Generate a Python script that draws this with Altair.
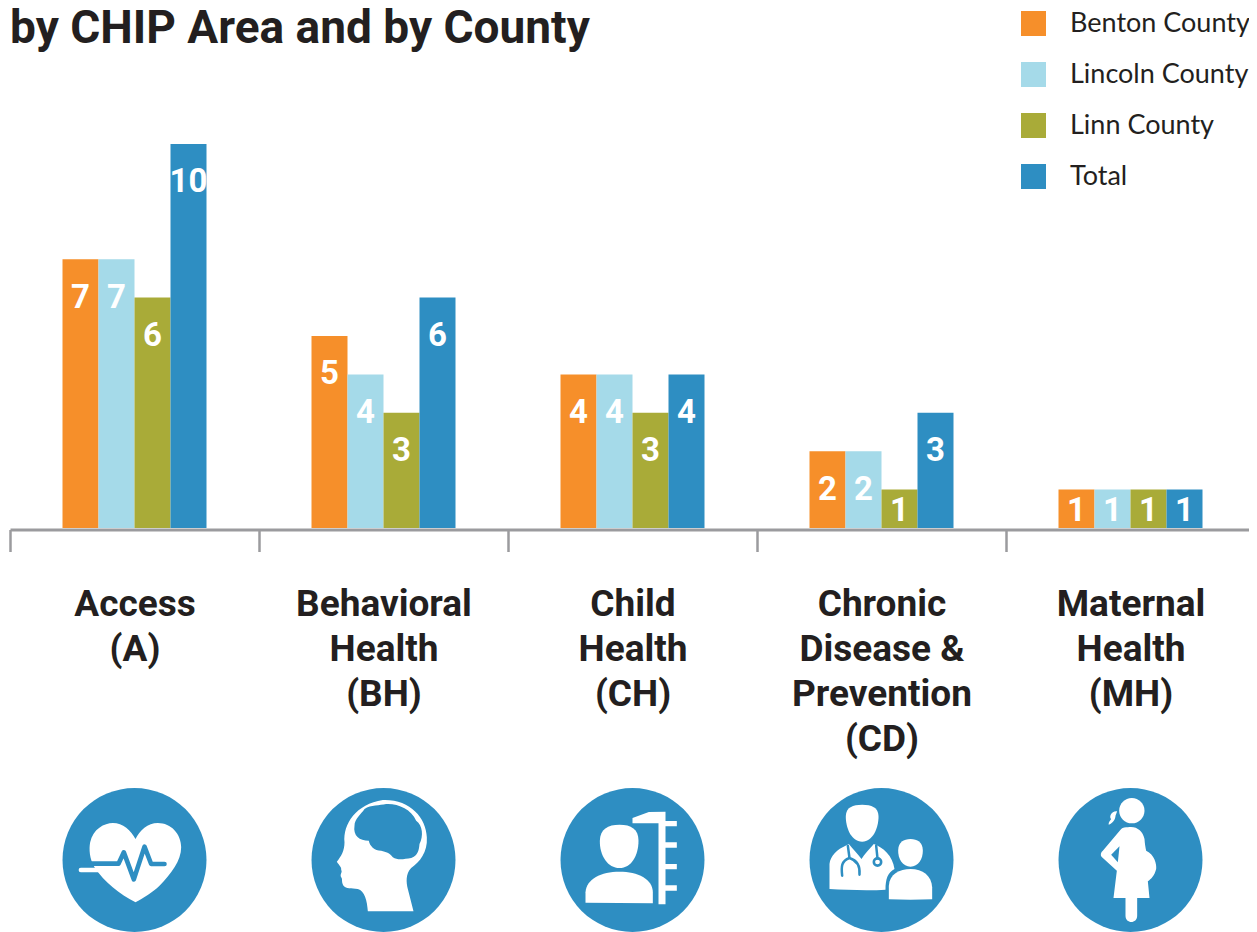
import re
import altair as alt
import pandas as pd

title_text = "by CHIP Area and by County"
categories = ["Access|(A)", "Behavioral|Health|(BH)", "Child|Health|(CH)",
              "Chronic|Disease &|Prevention|(CD)", "Maternal|Health|(MH)"]
series = ["Benton County", "Lincoln County", "Linn County", "Total"]
benton = [7, 5, 4, 2, 1]
lincoln = [7, 4, 4, 2, 1]
linn = [6, 3, 3, 1, 1]
total = [10, 6, 4, 3, 1]
colors = ["#F68F2A", "#A5DAE9", "#A9AB38", "#2E8EC2"]
INK = "#231F20"
AXIS = "#9B9B9E"
BOLD = "Roboto"
LIGHT = "Lato"

rows = []
for s, vals in zip(series, [benton, lincoln, linn, total]):
    for c, v in zip(categories, vals):
        rows.append({"cat": c, "series": s, "value": v})
df = pd.DataFrame(rows)


def glyph(path, cx, cy):
    return re.sub(r"(-?[\d.]+),(-?[\d.]+)",
                  lambda m: f"{float(m[1]) - cx:.1f},{float(m[2]) - cy:.1f}", path)


def ring(x, y, r):
    k = r * 0.55
    return (f"M{x-r},{y} C{x-r},{y-k} {x-k},{y-r} {x},{y-r} C{x+k},{y-r} {x+r},{y-k} {x+r},{y} "
            f"C{x+r},{y+k} {x+k},{y+r} {x},{y+r} C{x-k},{y+r} {x-r},{y+k} {x-r},{y} Z")


W, B, N = "white", "#2E8EC2", "transparent"
icons = [
    # heart
    (0, 285, 238, W, N, 0, "M288,365 C240,340 195,305 165,260 C150,235 148,205 152,185 C160,145 195,127 220,127 C250,127 275,150 288,175 C300,150 325,127 355,127 C395,127 425,160 425,200 C425,240 395,280 360,315 C340,335 310,352 288,365 Z"),
    (0, 285, 238, N, B, 4.6, "M140,249 L237,249 L253,215 L283,296 L315,198 L335,250 L375,250"),
    (0, 285, 238, N, W, 4.4, "M124,268 L185,268"),
    # head
    (1, 1032, 238, W, N, 0, "M1122,392 L985,392 C983,360 975,330 955,325 C935,322 920,325 912,315 C905,305 910,295 905,290 C900,280 910,275 905,268 C907,260 900,255 892,243 C905,228 915,210 915,185 C910,130 950,70 1030,58 C1110,55 1160,110 1162,170 C1165,215 1140,245 1115,262 C1098,280 1100,305 1105,325 Z"),
    (1, 1032, 238, B, N, 0, "M945,135 C945,115 965,100 975,85 C995,72 1020,75 1040,70 C1075,68 1115,85 1130,120 C1150,135 1152,165 1140,190 C1138,210 1135,225 1115,232 C1095,235 1075,240 1060,230 C1050,215 1040,215 1025,210 C1005,210 990,195 988,180 C960,180 940,165 945,135 Z"),
    # child and ruler
    (2, 279, 238, W, N, 0, "M240,262 C205,262 180,225 181,180 C182,145 205,132 240,132 C275,132 297,145 297,180 C297,225 275,262 240,262 Z"),
    (2, 279, 238, W, N, 0, "M138,366 L138,335 C140,295 185,273 240,273 C295,273 340,295 340,335 L340,368 Z"),
    (2, 279, 238, W, N, 0, "M279,112 L328,94 L378,93 L378,121 L412,121 L412,137 L378,137 L378,185 L412,185 L412,201 L378,201 L378,250 L412,250 L412,266 L378,266 L378,314 L412,314 L412,330 L378,330 L378,371 L357,371 L357,128 L279,128 Z"),
    # doctor and patient
    (3, 1026, 238, W, N, 0, "M968,183 C935,183 918,140 919,105 C920,80 940,72 968,72 C996,72 1016,80 1017,105 C1018,140 1000,183 968,183 Z"),
    (3, 1026, 238, W, N, 0, "M918,195 L928,190 C940,205 955,220 966,235 C975,220 990,205 1003,190 C1030,200 1060,225 1065,265 C1045,275 1038,295 1038,327 C990,330 920,328 870,325 L870,250 C872,225 895,205 918,195 Z"),
    (3, 1026, 238, N, B, 2.5, "M925,195 L930,232 C905,240 905,260 908,285 M930,232 C955,240 962,260 960,282 M1010,195 L1014,233"),
    (3, 1026, 238, N, B, 2.6, ring(1014, 244, 11)),
    (3, 1026, 238, W, N, 0, "M1113,258 C1090,258 1075,235 1076,208 C1077,185 1092,175 1113,175 C1134,175 1149,185 1150,208 C1151,235 1136,258 1113,258 Z"),
    (3, 1026, 238, W, N, 0, "M1048,356 L1048,315 C1050,280 1080,265 1113,265 C1150,265 1176,285 1178,320 L1178,356 C1135,358 1090,358 1048,356 Z"),
    # expectant mother
    (4, 273, 238, W, N, 0, ring(277, 90, 38)),
    (4, 273, 238, W, N, 0, "M233,92 C215,90 208,110 215,115 C207,125 207,130 208,132 C225,125 228,110 228,105 Z"),
    (4, 273, 238, W, N, 0, "M265,140 C290,135 310,150 315,175 C316,190 318,200 320,210 C345,222 352,250 350,265 C345,285 335,295 325,302 L330,352 L293,352 L293,405 C293,430 258,430 258,405 L258,352 L222,352 L232,270 L186,228 C182,222 184,215 190,210 L245,145 C250,140 258,140 265,140 Z"),
    (4, 273, 238, B, N, 0, "M240,197 L215,222 L235,245 Z"),
]
icon_df = pd.DataFrame([
    {"cat": categories[i], "path": glyph(p, cx, cy), "fill": f, "stroke": s, "sw": w}
    for i, cx, cy, f, s, w, p in icons
])
circle_df = pd.DataFrame({"cat": categories})
title_df = pd.DataFrame({"t": [title_text]})

x_enc = alt.X("cat:N", title=None, sort=categories,
              scale=alt.Scale(domain=categories, range=[0, 1245], paddingInner=0,
                              paddingOuter=0, type="band"),
              axis=alt.Axis(labelExpr="split(datum.label, '|')", labelAngle=0,
                            labelFont=BOLD, labelFontWeight="bold", labelFontSize=37,
                            labelColor=INK, labelLineHeight=45, labelPadding=35,
                            labelBaseline="top", labelLimit=400, labelOverlap=False,
                            labelFlush=False, tickBand="extent", tickSize=22,
                            tickColor=AXIS, tickWidth=2.5, domainColor=AXIS,
                            domainWidth=3, offset=1.5, grid=False))
x_off = alt.XOffset("series:N", sort=series,
                    scale=alt.Scale(domain=series, range=[52.5, 196.5],
                                    paddingInner=0, paddingOuter=0))
y_scale = alt.Scale(domain=[0, 10], nice=False, zero=True)
ICON_Y = 716

bars = alt.Chart(df).mark_bar(cornerRadius=0).encode(
    x=x_enc,
    xOffset=x_off,
    y=alt.Y("value:Q", scale=y_scale, axis=None),
    color=alt.Color("series:N", sort=series,
                    scale=alt.Scale(domain=series, range=colors),
                    legend=alt.Legend(orient="none", legendX=1010, legendY=-134,
                                      title=None, symbolType="square", symbolSize=625,
                                      symbolStrokeWidth=0, symbolOpacity=1,
                                      labelFont=LIGHT, labelFontSize=27, labelColor=INK,
                                      labelOffset=23, rowPadding=23, labelLimit=300)),
)

labels = alt.Chart(df).transform_calculate(
    pos="datum.value > 1 ? datum.value - 1.0 : datum.value - 0.55"
).mark_text(font=BOLD, fontWeight="bold", fontSize=33, color="white", baseline="middle").encode(
    x=x_enc,
    xOffset=x_off,
    y=alt.Y("pos:Q", scale=y_scale, axis=None),
    text="value:Q",
)

discs = alt.Chart(circle_df).mark_point(filled=True, shape="circle", size=20736, opacity=1,
                                        color=B, strokeWidth=0).encode(
    x=x_enc,
    y=alt.value(ICON_Y),
)

glyphs = alt.Chart(icon_df).mark_point(filled=True, size=4 / 9, opacity=1, strokeCap="round",
                                       strokeJoin="round").encode(
    x=x_enc,
    y=alt.value(ICON_Y),
    shape=alt.Shape("path:N", scale=None),
    fill=alt.Fill("fill:N", scale=None),
    stroke=alt.Stroke("stroke:N", scale=None),
    strokeWidth=alt.StrokeWidth("sw:Q", scale=None),
)

headline = alt.Chart(title_df).mark_text(font=BOLD, fontWeight="bold", fontSize=46, color=INK,
                                         align="left", baseline="alphabetic").encode(
    x=alt.value(0),
    y=alt.value(-101.5),
    text="t:N",
)

chart = alt.layer(bars, labels, discs, glyphs, headline).properties(
    width=1239, height=384,
    autosize=alt.AutoSizeParams(type="none"),
    padding={"left": 2, "right": 0, "top": 136, "bottom": 404},
).configure_view(stroke=None)

chart.save("out.html", embed_options={"renderer": "svg", "actions": False})
